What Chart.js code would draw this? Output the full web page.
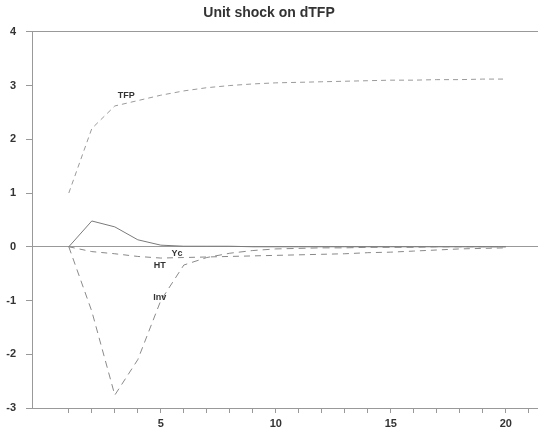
<!DOCTYPE html>
<html lang="en">
  <head>
    <meta charset="UTF-8" />
    <title>Unit shock on dTFP</title>
    <script src="https://cdn.jsdelivr.net/npm/chart.js"></script>
    <style>
      html, body { margin: 0; padding: 0; background: #fff; }
      #wrap { position: relative; width: 538px; height: 436px; }
    </style>
  </head>
  <body>
    <div id="wrap"><canvas id="irf"></canvas></div>
    <script>
      // periods after the shock
      const periods = [1, 2, 3, 4, 5, 6, 7, 8, 9, 10, 11, 12, 13, 14, 15, 16, 17, 18, 19, 20];

      // impulse responses
      const tfp = [1.0, 2.2, 2.62, 2.72, 2.82, 2.9, 2.96, 3.0, 3.03, 3.05, 3.06, 3.07, 3.08, 3.09, 3.1, 3.1, 3.11, 3.11, 3.12, 3.12];
      const yc = [0, 0.48, 0.37, 0.13, 0.03, 0.01, 0.01, 0.01, 0.0, 0.0, 0.0, 0.0, 0.0, 0.0, 0.0, 0.0, 0.0, 0.0, 0.0, 0.0];
      const ht = [0, -0.09, -0.13, -0.18, -0.21, -0.2, -0.19, -0.18, -0.17, -0.16, -0.15, -0.14, -0.13, -0.11, -0.1, -0.08, -0.06, -0.04, -0.03, -0.02];
      const inv = [0, -1.2, -2.76, -2.1, -1.0, -0.34, -0.2, -0.12, -0.07, -0.04, -0.03, -0.02, -0.02, -0.01, -0.01, -0.01, 0, 0, 0, 0];

      // series names written next to the curves, with where they sit (data units)
      const seriesNames = ["TFP", "Yc", "HT", "Inv"];
      const nameX = [3.5, 5.7, 4.95, 4.95];
      const nameY = [2.81, -0.13, -0.34, -0.95];

      const xTicks = [1, 2, 3, 4, 5, 6, 7, 8, 9, 10, 11, 12, 13, 14, 15, 16, 17, 18, 19, 20, 21];
      const xLabelled = [5, 10, 15, 20];

      const pts = (ys) => ys.map((v, i) => ({ x: periods[i], y: v }));

      const line = (label, ys, color, dash) => ({
        label: label,
        data: pts(ys),
        borderColor: color,
        borderWidth: 1,
        borderDash: dash,
        pointRadius: 0,
        tension: 0,
        fill: false,
      });

      // draw the little curve names
      const namePlugin = {
        id: "names",
        afterDatasetsDraw(chart) {
          const { ctx, scales } = chart;
          ctx.save();
          ctx.font = "bold 9px 'Liberation Sans', Arial, sans-serif";
          ctx.fillStyle = "#333";
          ctx.textAlign = "center";
          ctx.textBaseline = "middle";
          seriesNames.forEach((n, i) => {
            ctx.fillText(n, scales.x.getPixelForValue(nameX[i]), scales.y.getPixelForValue(nameY[i]));
          });
          ctx.restore();
        },
      };

      const ctx = document.getElementById("irf").getContext("2d");
      new Chart(ctx, {
        type: "line",
        data: {
          datasets: [
            line("TFP", tfp, "#9a9a9a", [5, 4]),
            line("Yc", yc, "#7a7a7a", []),
            line("HT", ht, "#888", [6, 5]),
            line("Inv", inv, "#8a8a8a", [7, 5]),
          ],
        },
        options: {
          responsive: true,
          maintainAspectRatio: false,
          animation: false,
          layout: { padding: { left: 0, right: 0, top: 0, bottom: 0 } },
          scales: {
            x: {
              type: "linear",
              min: -0.6,
              max: 21.4,
              afterBuildTicks: (scale) => {
                scale.ticks = xTicks.map((v) => ({ value: v }));
              },
              afterFit: (scale) => {
                scale.height = 28;
              },
              ticks: {
                autoSkip: false,
                maxRotation: 0,
                padding: 4,
                color: "#333",
                font: { family: "'Liberation Sans', Arial, sans-serif", size: 11, weight: "bold" },
                callback: (v) => (xLabelled.includes(v) ? String(v) : ""),
              },
              grid: {
                drawOnChartArea: false,
                tickLength: 5,
                tickColor: "#999",
              },
              border: { display: true, color: "#999", width: 1 },
            },
            y: {
              min: -3,
              max: 4,
              afterFit: (scale) => {
                scale.width = 32;
              },
              ticks: {
                stepSize: 1,
                padding: 10,
                color: "#333",
                font: { family: "'Liberation Sans', Arial, sans-serif", size: 11, weight: "bold" },
              },
              grid: {
                color: (c) => (c.tick && (c.tick.value === 0 || c.tick.value === 4) ? "#999" : "rgba(0,0,0,0)"),
                tickColor: "#999",
                tickLength: 6,
              },
              border: { display: true, color: "#999", width: 1 },
            },
          },
          plugins: {
            legend: { display: false },
            tooltip: { enabled: false },
            title: {
              display: true,
              text: "Unit shock on dTFP",
              color: "#333",
              font: { family: "'Liberation Sans', Arial, sans-serif", size: 14, weight: "bold" },
              padding: { top: 5, bottom: 10 },
            },
          },
        },
        plugins: [namePlugin],
      });
    </script>
  </body>
</html>
